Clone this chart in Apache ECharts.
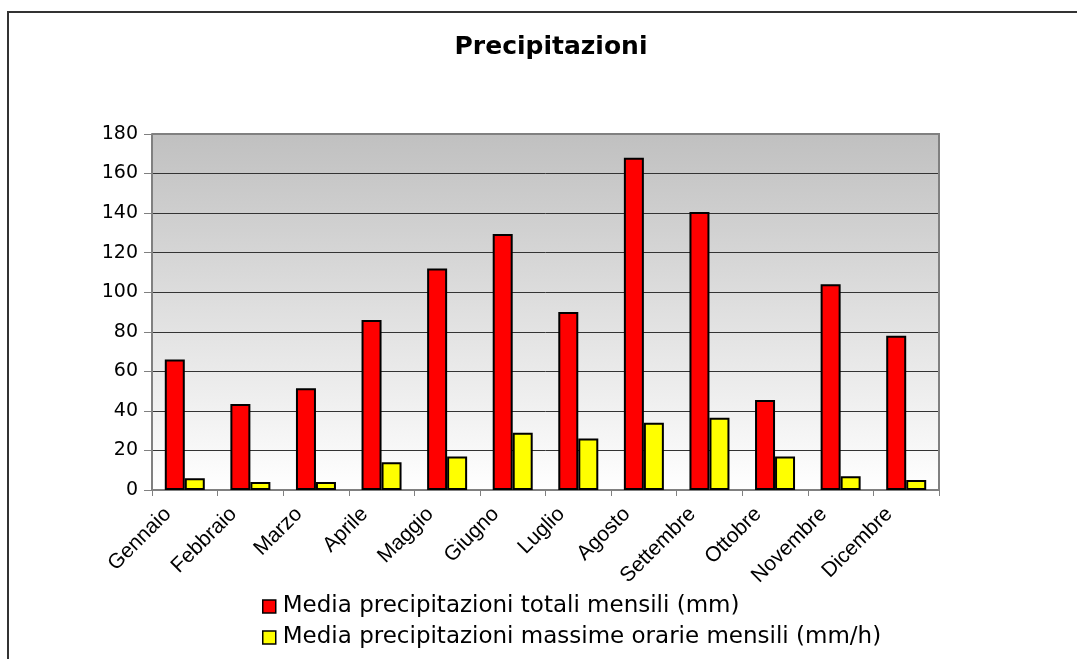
<!DOCTYPE html>
<html>
<head>
<meta charset="utf-8">
<script src="https://cdn.jsdelivr.net/npm/echarts@6/dist/echarts.min.js"></script>
<style>
html,body{margin:0;padding:0;background:#fff;}
#c{width:1077px;height:659px;}
</style>
</head>
<body>
<div id="c"></div>
<script>
const categories = ['Gennaio','Febbraio','Marzo','Aprile','Maggio','Giugno','Luglio','Agosto','Settembre','Ottobre','Novembre','Dicembre'];
const totali = [66, 43.5, 51.5, 86, 112, 129.5, 90, 168, 140.5, 45.5, 104, 78];
const massime = [6, 4, 4, 14, 17, 29, 26, 34, 36.5, 17, 7, 5];
const seriesNames = ['Media precipitazioni totali mensili (mm)', 'Media precipitazioni massime orarie mensili (mm/h)'];
const yMin = 0, yMax = 180, yStep = 20;

const chart = echarts.init(document.getElementById('c'), null, {renderer:'canvas'});
const arial = 'Liberation Sans, Arial, sans-serif';
const wide = 'DejaVu Sans, sans-serif';
const gTop = 134, gLeft = 152, gRight = 1077 - 138, gBottom = 659 - 169;
chart.setOption({
  animation: false,
  backgroundColor: '#ffffff',
  title: {
    text: 'Precipitazioni',
    left: 551, top: 35, textAlign: 'center', padding: 0,
    textStyle: {fontFamily: wide, fontWeight: 'bold', fontSize: 25, color: '#000'}
  },
  graphic: [
    {type: 'rect', z: 100, silent: true, shape: {x: 8, y: 12, width: 1100, height: 700}, style: {fill: 'none', stroke: '#333', lineWidth: 2}},
    {type: 'polyline', z: 50, silent: true, shape: {points: [[gLeft, gTop], [gRight, gTop], [gRight, gBottom]]}, style: {fill: 'none', stroke: '#808080', lineWidth: 2}}
  ],
  legend: {
    orient: 'vertical', left: 262, top: 595, padding: 0,
    itemWidth: 13, itemHeight: 13, itemGap: 8,
    icon: 'rect',
    itemStyle: {borderColor: '#000', borderWidth: 1.5},
    textStyle: {fontFamily: wide, fontSize: 23, lineHeight: 23, color: '#000', padding: [0,0,0,2]},
    data: seriesNames
  },
  grid: {
    left: gLeft, right: 138, top: gTop, bottom: 169,
    show: true, borderWidth: 0,
    backgroundColor: new echarts.graphic.LinearGradient(0, 0, 0, 1, [
      {offset: 0, color: '#c0c0c0'},
      {offset: 1, color: '#ffffff'}
    ])
  },
  xAxis: {
    type: 'category', data: categories,
    axisLine: {lineStyle: {color: '#808080', width: 2}},
    axisTick: {show: true, length: 6, lineStyle: {color: '#808080', width: 1}},
    axisLabel: {rotate: 45, fontFamily: arial, fontSize: 21, color: '#000', margin: 4, padding: [0, 24, 0, 0], interval: 0}
  },
  yAxis: {
    type: 'value', min: yMin, max: yMax, interval: yStep,
    axisLine: {show: true, lineStyle: {color: '#808080', width: 2}},
    axisTick: {show: true, length: 8, lineStyle: {color: '#808080'}},
    axisLabel: {fontFamily: wide, fontSize: 19, color: '#000', margin: 14},
    splitLine: {show: true, lineStyle: {color: '#333333', width: 1}}
  },
  series: [
    {
      name: seriesNames[0], type: 'bar', data: totali,
      barWidth: 20, barGap: '0%',
      itemStyle: {color: '#ff0000', borderColor: '#000', borderWidth: 2}
    },
    {
      name: seriesNames[1], type: 'bar', data: massime,
      barWidth: 20,
      itemStyle: {color: '#ffff00', borderColor: '#000', borderWidth: 2}
    }
  ]
});
</script>
</body>
</html>
